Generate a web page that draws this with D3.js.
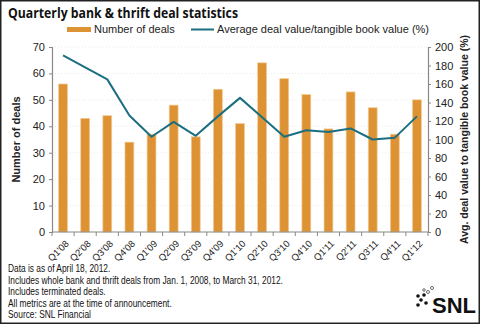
<!DOCTYPE html>
<html>
<head>
<meta charset="utf-8">
<script src="https://cdn.jsdelivr.net/npm/d3@7"></script>
<style>
  body { margin: 0; background: #fff; }
  svg { display: block; }
</style>
</head>
<body>
<div id="chart"></div>
<script>
// data
const quarters = ["Q1'08","Q2'08","Q3'08","Q4'08","Q1'09","Q2'09","Q3'09","Q4'09","Q1'10","Q2'10","Q3'10","Q4'10","Q1'11","Q2'11","Q3'11","Q4'11","Q1'12"];
const deals = [56, 43, 44, 34, 37, 48, 36, 54, 41, 64, 58, 52, 39, 53, 47, 37, 50];
const priceToTbv = [191, 178, 165, 126, 103, 119, 104, 125, 145, 124, 103, 110, 108, 112, 100, 102, 125];
const leftTicks = [0, 10, 20, 30, 40, 50, 60, 70];
const rightTicks = [0, 20, 40, 60, 80, 100, 120, 140, 160, 180, 200];
const notes = [
  "Data is as of April 18, 2012.",
  "Includes whole bank and thrift deals from Jan. 1, 2008, to March 31, 2012.",
  "Includes terminated deals.",
  "All metrics are at the time of announcement.",
  "Source: SNL Financial"
];

const width = 480, height = 324;
const margin = { top: 47, right: 52, bottom: 92, left: 52 };
const orange = "#dd9234", teal = "#1b6f80";
const font = "'Liberation Sans', Arial, sans-serif";

const svg = d3.select("#chart").append("svg")
  .attr("width", width).attr("height", height)
  .style("font-family", font);

// frame
svg.append("rect")
  .attr("x", 0.75).attr("y", 0.75)
  .attr("width", width - 1.5).attr("height", height - 1.5)
  .attr("fill", "#fff").attr("stroke", "#222").attr("stroke-width", 1.5);

// scales
const x = d3.scaleBand()
  .domain(quarters)
  .range([margin.left, width - margin.right])
  .paddingInner(0.6).paddingOuter(0.3);
const yL = d3.scaleLinear().domain([0, 70]).range([height - margin.bottom, margin.top]);
const yR = d3.scaleLinear().domain([0, 200]).range([height - margin.bottom, margin.top]);

// grid
svg.append("g").selectAll("line")
  .data(leftTicks.slice(1))
  .join("line")
  .attr("x1", margin.left).attr("x2", width - margin.right)
  .attr("y1", d => yL(d)).attr("y2", d => yL(d))
  .attr("stroke", "#ddd").attr("stroke-width", 0.6)
  .attr("stroke-dasharray", "1,2");

// bars
svg.append("g").selectAll("rect")
  .data(deals)
  .join("rect")
  .attr("x", (d, i) => x(quarters[i]))
  .attr("y", d => yL(d))
  .attr("width", x.bandwidth())
  .attr("height", d => yL(0) - yL(d))
  .attr("fill", orange)
  .attr("stroke", "#f2c98f").attr("stroke-width", 0.7);

// line
const line = d3.line()
  .x((d, i) => x(quarters[i]) + x.bandwidth() / 2)
  .y(d => yR(d));
svg.append("path")
  .datum(priceToTbv)
  .attr("d", line)
  .attr("fill", "none")
  .attr("stroke", teal).attr("stroke-width", 2)
  .attr("stroke-linejoin", "round");

// axes
const axisColor = "#888";
const gL = svg.append("g")
  .attr("transform", `translate(${margin.left},0)`)
  .call(d3.axisLeft(yL).tickValues(leftTicks).tickSize(3).tickPadding(4));
const gR = svg.append("g")
  .attr("transform", `translate(${width - margin.right},0)`)
  .call(d3.axisRight(yR).tickValues(rightTicks).tickSize(3).tickPadding(4));
[gL, gR].forEach(g => {
  g.select(".domain").attr("stroke", axisColor).attr("stroke-width", 1.2);
  g.selectAll(".tick line").attr("stroke", axisColor);
  g.selectAll("text").style("font-family", font).style("font-size", "11px").attr("fill", "#222");
});

// x axis: ticks at category boundaries
const boundaries = d3.range(quarters.length + 1).map(i => margin.left + i * (width - margin.left - margin.right) / quarters.length);
const gX = svg.append("g");
gX.append("line")
  .attr("x1", margin.left).attr("x2", width - margin.right)
  .attr("y1", yL(0)).attr("y2", yL(0))
  .attr("stroke", axisColor).attr("stroke-width", 1.2);
gX.selectAll("line.tk")
  .data(boundaries)
  .join("line").attr("class", "tk")
  .attr("x1", d => d).attr("x2", d => d)
  .attr("y1", yL(0)).attr("y2", yL(0) + 4)
  .attr("stroke", axisColor);
gX.selectAll("text")
  .data(quarters)
  .join("text")
  .attr("transform", d => `translate(${x(d) + x.bandwidth() / 2 + 4},${yL(0) + 10}) rotate(-45)`)
  .attr("text-anchor", "end")
  .attr("dy", "0.35em")
  .style("font-size", "9.5px")
  .attr("fill", "#222")
  .text(d => d);

// axis titles
svg.append("text")
  .attr("transform", `translate(20,${(yL(0) + yL(70)) / 2}) rotate(-90)`)
  .attr("text-anchor", "middle")
  .style("font-size", "11px").style("font-weight", "bold")
  .attr("fill", "#222")
  .text("Number of deals");
svg.append("text")
  .attr("transform", `translate(468,${(yL(0) + yL(70)) / 2}) rotate(-90)`)
  .attr("text-anchor", "middle")
  .style("font-size", "10.5px").style("font-weight", "bold")
  .attr("fill", "#222")
  .text("Avg. deal value to tangible book value (%)");

// title
svg.append("text")
  .attr("x", 8).attr("y", 18)
  .style("font-family", "'Open Sans', sans-serif")
  .style("font-size", "14.5px").style("font-weight", "bold")
  .attr("textLength", 230).attr("lengthAdjust", "spacingAndGlyphs")
  .attr("fill", "#111")
  .text("Quarterly bank & thrift deal statistics");

// legend
const lg = svg.append("g");
lg.append("rect").attr("x", 67).attr("y", 27).attr("width", 24).attr("height", 5).attr("fill", orange);
lg.append("text").attr("x", 94).attr("y", 33).style("font-size", "11px").attr("fill", "#222").text("Number of deals");
lg.append("line").attr("x1", 191).attr("x2", 214).attr("y1", 29.5).attr("y2", 29.5)
  .attr("stroke", teal).attr("stroke-width", 2);
lg.append("text").attr("x", 217).attr("y", 33).style("font-size", "11px").attr("fill", "#222")
  .text("Average deal value/tangible book value (%)");

// notes (condensed to match the narrow source font)
const noteG = svg.append("g").attr("transform", "translate(8,0)");
const noteText = noteG.selectAll("text")
  .data(notes)
  .join("text")
  .attr("x", 0)
  .attr("y", (d, i) => 272 + i * 11.6)
  .style("font-size", "10px")
  .attr("fill", "#111")
  .text(d => d);
const longest = d3.max(noteText.nodes(), n => n.getComputedTextLength());
noteG.attr("transform", `translate(8,0) scale(${275 / longest},1)`);

// SNL logo
const logo = svg.append("g");
const dots = [[418, 296, 1.8, true], [424, 295, 1.8, true], [421, 300, 1.8, true], [418, 305, 1.8, true], [426, 303, 1.8, true],
              [428, 292, 1.5, false], [432, 288, 1.5, false], [424, 290, 1.3, false]];
logo.selectAll("circle")
  .data(dots)
  .join("circle")
  .attr("cx", d => d[0]).attr("cy", d => d[1]).attr("r", d => d[2])
  .attr("fill", d => d[3] ? "#111" : "#fff")
  .attr("stroke", "#111").attr("stroke-width", d => d[3] ? 0 : 0.6);
logo.append("text")
  .attr("x", 432).attr("y", 313)
  .style("font-size", "22px").style("font-weight", "bold")
  .attr("fill", "#111")
  .text("SNL");
</script>
</body>
</html>
